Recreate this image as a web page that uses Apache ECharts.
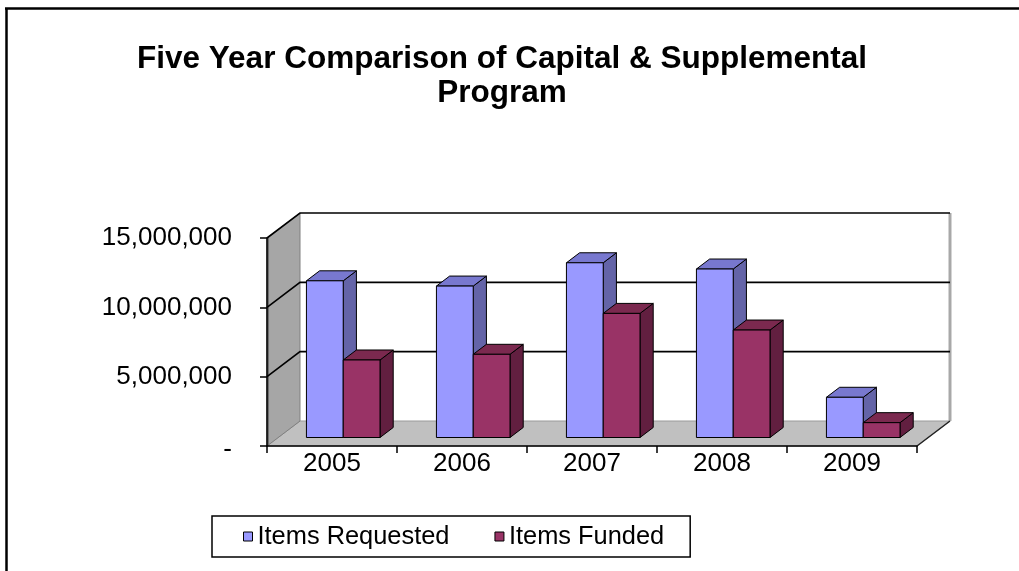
<!DOCTYPE html>
<html>
<head>
<meta charset="utf-8">
<title>Five Year Comparison of Capital &amp; Supplemental Program</title>
<script src="https://cdn.jsdelivr.net/npm/echarts@6/dist/echarts.min.js"></script>
<style>
  html, body { margin: 0; padding: 0; background: #ffffff; }
  #chart { width: 1019px; height: 571px; }
</style>
</head>
<body>
<div id="chart"></div>
<script>
// ---- data ----
const CATEGORIES = ['2005', '2006', '2007', '2008', '2009'];
const SERIES_NAMES = ['Items Requested', 'Items Funded'];
const REQUESTED = [11300000, 10920000, 12600000, 12150000, 2900000];
const FUNDED = [5590000, 6000000, 8950000, 7750000, 1070000];
const Y_TICKS = [0, 5000000, 10000000, 15000000];

// ---- 3D look ----
const DEPTH_X = 33;          // horizontal shift from front plane to back wall
const DEPTH_Y = -25;         // vertical shift from front plane to back wall
const BAR_FRONT = 0.34;      // depth fraction of the bars' front faces
const BAR_BACK = 0.74;       // depth fraction of the bars' back faces
const BAR_WIDTH_RATIO = 0.283;
const FONT = '"Liberation Sans", Arial, sans-serif';

const BAR_COLORS = [
  { front: '#9999ff', top: '#7878cf', side: '#6464a8' },
  { front: '#993366', top: '#7b294f', side: '#621f40' }
];

function barRenderer(slot) {
  const c = BAR_COLORS[slot];
  return function (params, api) {
    const cat = api.value(0);
    const val = api.value(1);
    const base = api.coord([cat, 0]);
    const top = api.coord([cat, val]);
    const band = api.size([1, 0])[0];
    const w = band * BAR_WIDTH_RATIO;
    const fx = BAR_FRONT * DEPTH_X, fy = BAR_FRONT * DEPTH_Y;
    const dx = (BAR_BACK - BAR_FRONT) * DEPTH_X, dy = (BAR_BACK - BAR_FRONT) * DEPTH_Y;
    const x0 = base[0] + (slot - 1) * w + fx;
    const x1 = x0 + w;
    const yt = top[1] + fy;
    const yb = base[1] + fy;
    const edge = { stroke: '#000', lineWidth: 1, lineJoin: 'round' };
    return {
      type: 'group',
      children: [
        { type: 'polygon', shape: { points: [[x1, yt], [x1 + dx, yt + dy], [x1 + dx, yb + dy], [x1, yb]] },
          style: Object.assign({ fill: c.side }, edge) },
        { type: 'polygon', shape: { points: [[x0, yt], [x1, yt], [x1 + dx, yt + dy], [x0 + dx, yt + dy]] },
          style: Object.assign({ fill: c.top }, edge) },
        { type: 'rect', shape: { x: x0, y: yt, width: w, height: yb - yt },
          style: Object.assign({ fill: c.front }, edge) }
      ]
    };
  };
}

// walls, floor and gridlines of the 3D plot box
function wallsRenderer(params, api) {
  const cs = params.coordSys;
  const left = cs.x, right = cs.x + cs.width, bottom = cs.y + cs.height;
  const yTop = api.coord([0, Y_TICKS[Y_TICKS.length - 1]])[1];
  const kids = [
    { type: 'rect', shape: { x: left + DEPTH_X, y: yTop + DEPTH_Y, width: right - left, height: bottom - yTop },
      style: { fill: '#ffffff' } },
    { type: 'polygon', shape: { points: [[left, bottom], [right, bottom], [right + DEPTH_X, bottom + DEPTH_Y], [left + DEPTH_X, bottom + DEPTH_Y]] },
      style: { fill: '#c0c0c0', stroke: '#9a9a9a', lineWidth: 1 } },
    { type: 'polygon', shape: { points: [[left, bottom], [left, yTop], [left + DEPTH_X, yTop + DEPTH_Y], [left + DEPTH_X, bottom + DEPTH_Y]] },
      style: { fill: '#a6a6a6', stroke: '#808080', lineWidth: 1 } },
    { type: 'line', shape: { x1: right + DEPTH_X, y1: yTop + DEPTH_Y, x2: right + DEPTH_X, y2: bottom + DEPTH_Y },
      style: { stroke: '#a8a8a8', lineWidth: 3 } },
    { type: 'line', shape: { x1: right, y1: bottom, x2: right + DEPTH_X, y2: bottom + DEPTH_Y },
      style: { stroke: '#222', lineWidth: 1.5 } },
    { type: 'line', shape: { x1: left + 1, y1: bottom, x2: left + 1, y2: yTop },
      style: { stroke: '#707070', lineWidth: 2 } }
  ];
  Y_TICKS.forEach(function (t) {
    if (t === 0) return;
    const y = api.coord([0, t])[1];
    kids.push({ type: 'polyline', shape: { points: [[left, y], [left + DEPTH_X, y + DEPTH_Y], [right + DEPTH_X, y + DEPTH_Y]] },
      style: { stroke: '#000', lineWidth: 1.6, fill: null } });
  });
  return { type: 'group', children: kids };
}

const chart = echarts.init(document.getElementById('chart'), null, { renderer: 'canvas' });
chart.setOption({
  animation: false,
  backgroundColor: '#ffffff',
  title: {
    text: 'Five Year Comparison of Capital & Supplemental\nProgram',
    left: 502,
    top: 42,
    padding: 0,
    textAlign: 'center',
    textStyle: { fontFamily: FONT, fontWeight: 'bold', fontSize: 31.5, lineHeight: 34, color: '#000' }
  },
  graphic: [
    { type: 'line', shape: { x1: 5, y1: 8.5, x2: 1019, y2: 8.5 }, style: { stroke: '#000', lineWidth: 2.5 } },
    { type: 'line', shape: { x1: 6.5, y1: 8, x2: 6.5, y2: 571 }, style: { stroke: '#000', lineWidth: 2.5 } }
  ],
  legend: {
    data: SERIES_NAMES,
    left: 212,
    top: 516,
    orient: 'horizontal',
    icon: 'rect',
    itemWidth: 9,
    itemHeight: 9,
    itemGap: 45,
    padding: [8, 26, 8, 31],
    borderColor: '#000',
    borderWidth: 1.5,
    itemStyle: { borderColor: '#000', borderWidth: 1 },
    textStyle: { fontFamily: FONT, fontSize: 25.4, color: '#000' }
  },
  grid: { left: 267, right: 102, top: 238, bottom: 125, containLabel: false },
  xAxis: {
    type: 'category',
    data: CATEGORIES,
    z: 10,
    axisLine: { lineStyle: { color: '#000', width: 1.5 } },
    axisTick: { show: true, length: 7, lineStyle: { color: '#000', width: 1.5 } },
    axisLabel: { fontFamily: FONT, fontSize: 26, color: '#000', margin: 5 },
    splitLine: { show: false }
  },
  yAxis: {
    type: 'value',
    min: Y_TICKS[0],
    max: Y_TICKS[Y_TICKS.length - 1],
    interval: Y_TICKS[1] - Y_TICKS[0],
    z: 10,
    axisLine: { show: true, lineStyle: { color: '#000', width: 1.5 } },
    axisTick: { show: true, length: 7, lineStyle: { color: '#000', width: 1.5 } },
    axisLabel: {
      fontFamily: FONT, fontSize: 26, color: '#000', margin: 35,
      formatter: function (v) { return v === 0 ? '{dash|-}' : v.toLocaleString('en-US'); },
      rich: { dash: { fontFamily: FONT, fontSize: 26, color: '#000', padding: [8, 0, 0, 0] } }
    },
    splitLine: { show: false }
  },
  series: [
    {
      type: 'custom', name: 'walls', silent: true, z: 1,
      renderItem: wallsRenderer,
      data: [[0, 0]],
      encode: { x: 0, y: 1 }
    },
    {
      type: 'custom', name: SERIES_NAMES[0], z: 2,
      itemStyle: { color: BAR_COLORS[0].front },
      renderItem: barRenderer(0),
      data: REQUESTED.map(function (v, i) { return [i, v]; }),
      encode: { x: 0, y: 1 }
    },
    {
      type: 'custom', name: SERIES_NAMES[1], z: 2,
      itemStyle: { color: BAR_COLORS[1].front },
      renderItem: barRenderer(1),
      data: FUNDED.map(function (v, i) { return [i, v]; }),
      encode: { x: 0, y: 1 }
    }
  ]
});
</script>
</body>
</html>
